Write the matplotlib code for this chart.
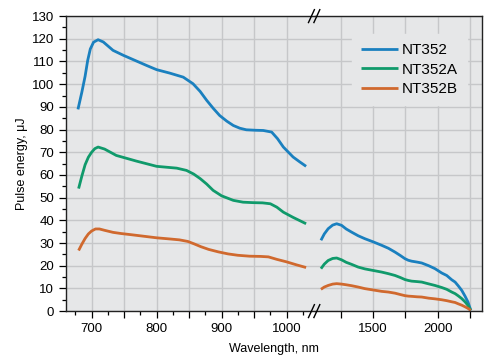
import matplotlib
matplotlib.use('Agg')
import matplotlib.pyplot as plt
from matplotlib.ticker import MultipleLocator, FixedLocator, FuncFormatter

plt.rcParams['font.family'] = ['Liberation Sans', 'DejaVu Sans']
plt.rcParams['font.size'] = 9.5

# left part of the broken axis (nm)
wl_a = [679, 685, 690, 694, 698, 703, 710, 718, 733, 749, 769, 785, 800, 820, 841, 856, 867, 877, 887, 897, 908, 918, 928, 938, 952, 964, 977, 986, 995, 1010, 1020, 1030]
nt352_a = [88.9, 96.5, 103.5, 110.5, 115.5, 118.5, 119.6, 118.6, 114.9, 112.7, 110.2, 108.2, 106.4, 104.9, 103.1, 100.2, 96.8, 92.9, 89.4, 86.2, 83.7, 81.8, 80.6, 79.9, 79.7, 79.6, 78.9, 76.0, 72.3, 67.9, 65.8, 63.8]
wl_b = [680, 685, 690, 695, 700, 705, 710, 720, 738, 769, 800, 831, 846, 857, 867, 877, 887, 900, 918, 933, 948, 963, 975, 985, 995, 1010, 1020, 1030]
nt352a_a = [54.0, 59.5, 64.5, 67.8, 70.0, 71.6, 72.3, 71.4, 68.6, 66.1, 63.8, 63.0, 62.0, 60.4, 58.4, 56.0, 53.2, 50.8, 48.8, 48.0, 47.8, 47.7, 47.3, 45.8, 43.6, 41.3, 39.9, 38.5]
wl_c = [680, 685, 690, 695, 700, 706, 712, 720, 733, 745, 760, 780, 800, 820, 835, 848, 858, 868, 880, 895, 910, 925, 943, 960, 972, 985, 1000, 1015, 1030]
nt352b_a = [26.7, 29.5, 32.0, 34.0, 35.3, 36.2, 36.2, 35.6, 34.7, 34.2, 33.7, 33.0, 32.3, 31.8, 31.4, 30.7, 29.6, 28.4, 27.2, 26.1, 25.2, 24.6, 24.2, 24.1, 23.9, 22.8, 21.7, 20.4, 19.2]

# right part of the broken axis (nm)
wl_r = [1094, 1120, 1150, 1185, 1216, 1254, 1290, 1332, 1383, 1435, 1500, 1565, 1617, 1669, 1710, 1746, 1772, 1798, 1840, 1876, 1930, 1979, 2031, 2070, 2109, 2135, 2160, 2187, 2212, 2235, 2257]
nt352_r = [31.2, 34.0, 36.3, 37.9, 38.5, 37.8, 36.2, 34.8, 33.2, 31.9, 30.5, 29.0, 27.7, 26.0, 24.5, 23.1, 22.4, 22.0, 21.6, 21.2, 20.0, 18.7, 16.8, 15.7, 13.8, 12.8, 11.1, 9.1, 6.6, 4.0, 0.3]
nt352a_r = [18.7, 20.7, 22.3, 23.2, 23.4, 22.6, 21.5, 20.6, 19.4, 18.6, 17.9, 17.2, 16.5, 15.7, 14.8, 13.9, 13.5, 13.2, 13.0, 12.8, 12.0, 11.3, 10.4, 9.6, 8.4, 7.7, 6.7, 5.5, 4.1, 2.5, 0.3]
nt352b_r = [9.6, 10.6, 11.3, 11.9, 12.1, 11.9, 11.6, 11.2, 10.6, 9.9, 9.3, 8.7, 8.4, 7.9, 7.3, 6.8, 6.6, 6.5, 6.3, 6.2, 5.7, 5.4, 5.0, 4.6, 4.1, 3.8, 3.2, 2.6, 1.9, 1.2, 0.3]

names = ['NT352', 'NT352A', 'NT352B']
colors = ['#1a80bf', '#109a6b', '#d0692e']
bg = '#e6e7e8'
grid_c = '#c6c7c9'

fig = plt.figure(figsize=(4.92, 3.58), dpi=100)
axl = fig.add_axes([0.134, 0.131, 0.506, 0.824])
axr = fig.add_axes([0.640, 0.131, 0.340, 0.824])

left_data = [(wl_a, nt352_a), (wl_b, nt352a_a), (wl_c, nt352b_a)]
right_data = [nt352_r, nt352a_r, nt352b_r]

for ax in (axl, axr):
    ax.set_facecolor(bg)
    ax.set_ylim(0, 130)
    ax.yaxis.set_major_locator(MultipleLocator(10))
    ax.yaxis.set_minor_locator(MultipleLocator(5))
    ax.grid(True, which='major', color=grid_c, linewidth=1.0)
    ax.set_axisbelow(True)
    ax.tick_params(which='both', direction='out', width=0.9, color='black')
    ax.tick_params(which='major', length=5)
    ax.tick_params(which='minor', length=3)
    for s in ax.spines.values():
        s.set_linewidth(1.0)
        s.set_color('#222222')

for (x, y), c in zip(left_data, colors):
    axl.plot(x, y, color=c, lw=2.0, solid_capstyle='butt', solid_joinstyle='round')
for y, c, n in zip(right_data, colors, names):
    axr.plot(wl_r, y, color=c, lw=2.0, label=n, solid_capstyle='butt', solid_joinstyle='round')

axl.set_xlim(660.5, 1043.5)
axl.xaxis.set_major_locator(MultipleLocator(50))
axl.xaxis.set_minor_locator(FixedLocator([675, 725, 775, 825, 875, 925, 975, 1025]))
axl.xaxis.set_major_formatter(FuncFormatter(lambda v, p: '%d' % v if v % 100 == 0 else ''))
axl.spines['right'].set_visible(False)

axr.set_xlim(1047, 2345)
axr.xaxis.set_major_locator(FixedLocator([1250, 1500, 1750, 2000, 2250]))
axr.xaxis.set_major_formatter(FuncFormatter(lambda v, p: '%d' % v if v % 500 == 0 else ''))
axr.spines['left'].set_visible(False)
axr.tick_params(axis='y', which='both', left=False, labelleft=False)

axl.set_ylabel('Pulse energy, μJ', fontsize=9, labelpad=3)
fig.text(0.557, 0.008, 'Wavelength, nm', ha='center', va='bottom', fontsize=9)

leg = axr.legend(loc='upper right', bbox_to_anchor=(0.955, 0.965), frameon=True,
                 facecolor=bg, edgecolor=bg, framealpha=1, fancybox=False,
                 handlelength=2.4, handletextpad=0.25, labelspacing=0.35,
                 borderpad=0.6, fontsize=11)

# break marks
for yb in (0.955, 0.131):
    for dx in (-0.007, 0.004):
        x0 = 0.640 + dx
        fig.add_artist(plt.Line2D([x0 - 0.006, x0 + 0.006], [yb - 0.018, yb + 0.018],
                                  color='black', lw=1.0))

fig.savefig('out.png', dpi=100)
